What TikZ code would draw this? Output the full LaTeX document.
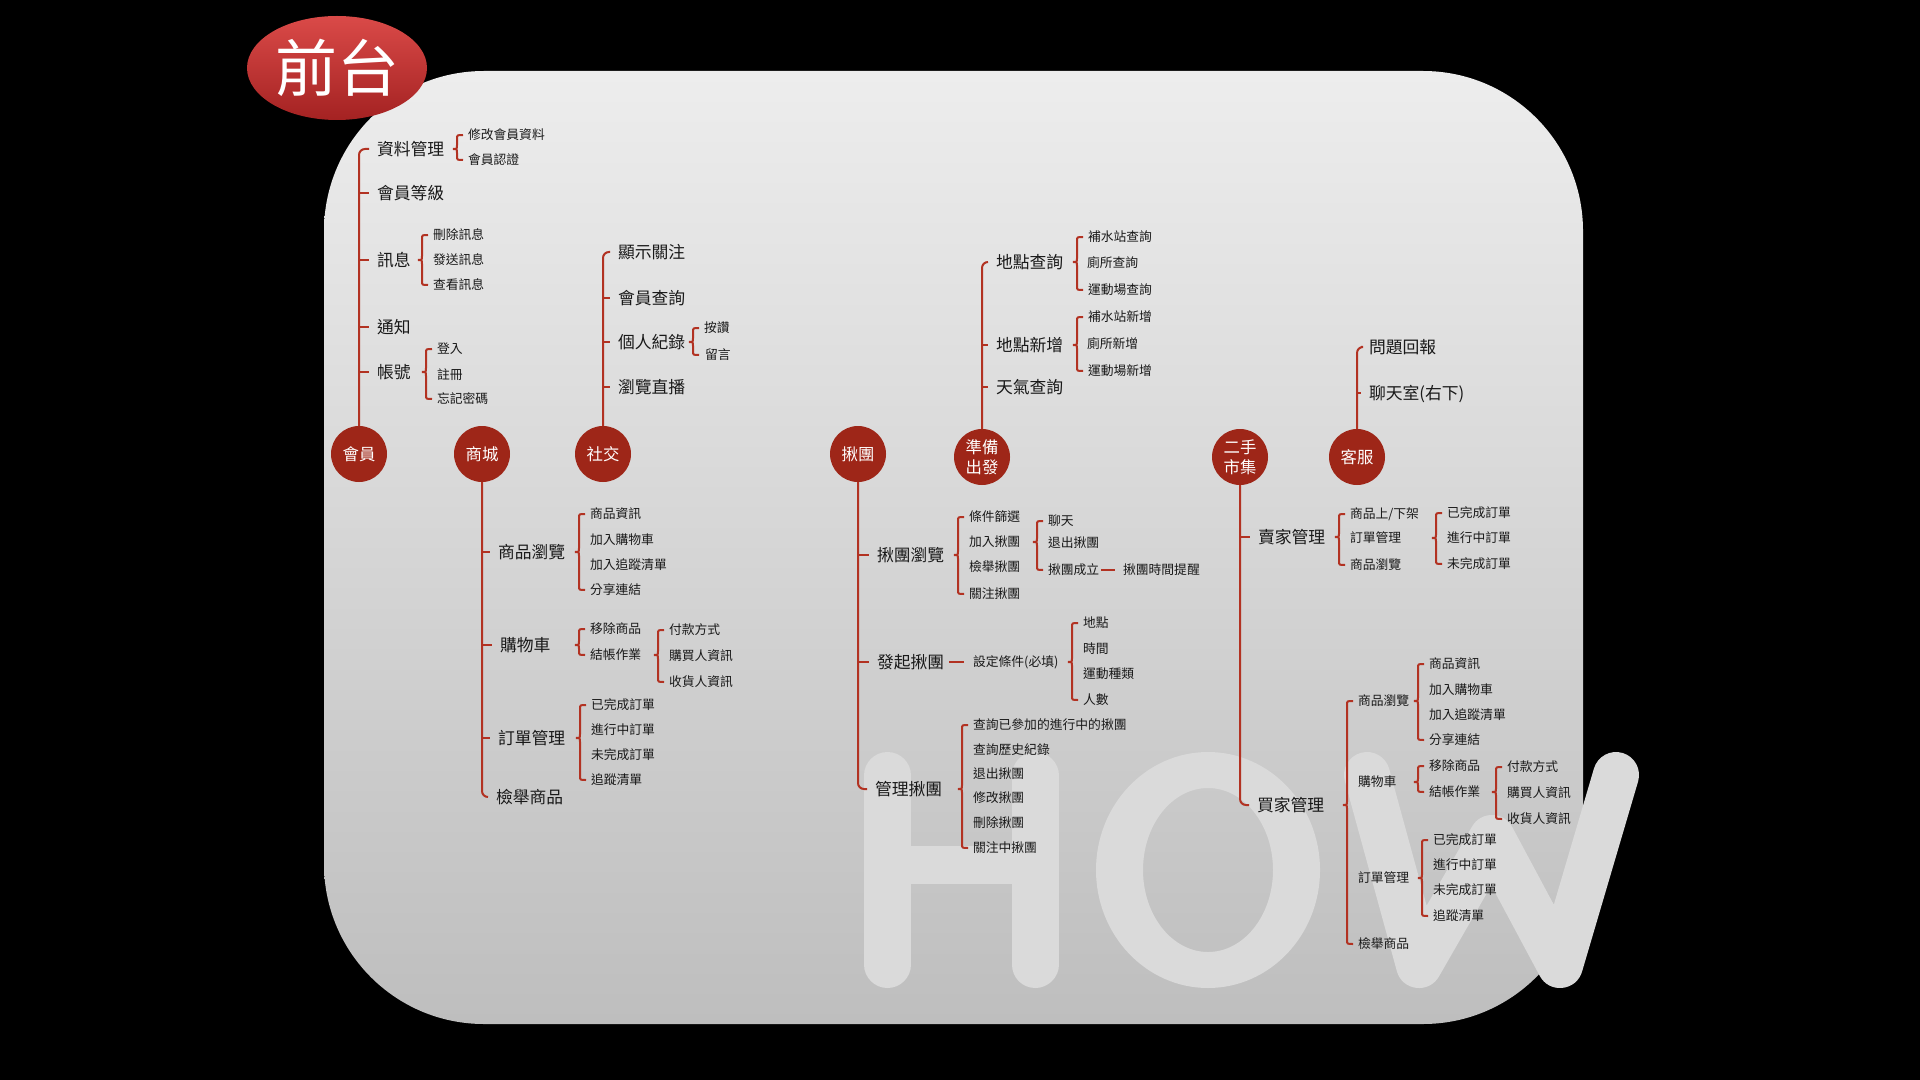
\documentclass[tikz,border=0pt]{standalone}
\usepackage{fontspec}
\setmainfont{Noto Sans CJK TC}
\usetikzlibrary{calc,shapes.geometric}
\definecolor{linkc}{RGB}{178,50,34}
\definecolor{circc}{RGB}{158,38,24}
\definecolor{txtc}{RGB}{25,25,25}
\definecolor{howc}{RGB}{218,218,218}
\definecolor{bgtop}{RGB}{237,237,237}
\definecolor{bgbot}{RGB}{190,190,190}
\definecolor{ttop}{RGB}{218,74,72}
\definecolor{tbot}{RGB}{164,34,34}
\tikzset{
 main/.style={font=\fontsize{8.4}{10}\selectfont, anchor=west, inner sep=0pt, outer sep=0pt, text height=7.4pt, text depth=1pt, text=txtc},
 sub/.style={font=\fontsize{6.4}{8}\selectfont, anchor=west, inner sep=0pt, outer sep=0pt, text height=5.6pt, text depth=0.8pt, text=txtc},
 cat/.style={circle, fill=circc, minimum size=28pt, inner sep=0pt, outer sep=0pt, text=white, align=center, font=\fontsize{8.2}{10}\selectfont},
 link/.style={draw=linkc, line width=1pt},
}
% trunk going up from circle #1 to top node #2, stubs to nodes #3
\newcommand\upTrunk[3]{%
  \draw[link, rounded corners=3pt] ([xshift=-4pt]#2.west) -- (#1.center |- #2.west) -- (#1.north);
  \foreach \nd in {#3} {\draw[link] (#1.center |- \nd.west) -- ([xshift=-4pt]\nd.west);}
}
% trunk going down from circle #1 to bottom node #2, stubs to nodes #3
\newcommand\downTrunk[3]{%
  \draw[link, rounded corners=3pt] (#1.south) -- (#1.center |- #2.west) -- ([xshift=-4pt]#2.west);
  \foreach \nd in {#3} {\draw[link] (#1.center |- \nd.west) -- ([xshift=-4pt]\nd.west);}
}
% curly brace from parent #1 to first child #2 and last child #3
\newcommand\brc[3]{%
 \draw[link] let \p1=(#2.west), \p2=(#3.west), \p3=(#1.east) in
   ({\x1-2.5pt},\y1) .. controls ({\x1-5.5pt},\y1) .. ({\x1-5.5pt},{\y1-2pt})
   -- ({\x1-5.5pt},{\y3+2pt}) .. controls ({\x1-5.5pt},\y3) .. ({\x1-7.5pt},\y3)
   .. controls ({\x1-5.5pt},\y3) .. ({\x1-5.5pt},{\y3-2pt})
   -- ({\x1-5.5pt},{\y2+2pt}) .. controls ({\x1-5.5pt},\y2) .. ({\x1-2.5pt},\y2);
}
\begin{document}
\begin{tikzpicture}[x=0.5pt,y=-0.5pt]
\useasboundingbox (0,0) rectangle (1920,1080);
\fill[black] (0,0) rectangle (1920,1080);
\shade[top color=bgtop, bottom color=bgbot, rounded corners=80pt] (324,71) rectangle (1583,1024);
% HOW watermark
\begin{scope}[howc]
\draw[line width=23.5pt, line cap=round] (887.5,775.5) -- (887.5,964.5) (1035,775.5) -- (1035,964.5);
\draw[line width=19pt] (887.5,865) -- (1035,865);
\fill[even odd rule] (1208,870) ellipse [x radius=56pt, y radius=59pt] (1208,870) ellipse [x radius=32.5pt, y radius=41pt];
\draw[line width=23pt, line cap=round, line join=round] (1367,775) -- (1419,965) -- (1492,838) -- (1560,965) -- (1616,775);
\end{scope}
% title
\node[ellipse, minimum width=90pt, minimum height=52pt, inner sep=0pt, top color=ttop, bottom color=tbot, text=white, font=\fontsize{31}{33}\selectfont] (title) at (337,68) {前台};

% ===== 會員 =====
\node[cat] (cM) at (359,454) {會員};
\node[main] (m1) at (377,149) {資料管理};
\node[sub] (m11) at (468,135) {修改會員資料};
\node[sub] (m12) at (468,160) {會員認證};
\node[main] (m2) at (377,193) {會員等級};
\node[main] (m3) at (377,260) {訊息};
\node[sub] (m31) at (433,235) {刪除訊息};
\node[sub] (m32) at (433,260) {發送訊息};
\node[sub] (m33) at (433,285) {查看訊息};
\node[main] (m4) at (377,327) {通知};
\node[main] (m5) at (377,372) {帳號};
\node[sub] (m51) at (437,349) {登入};
\node[sub] (m52) at (437,375) {註冊};
\node[sub] (m53) at (437,399) {忘記密碼};
\upTrunk{cM}{m1}{m2,m3,m4,m5}
\brc{m1}{m11}{m12}
\brc{m3}{m31}{m33}
\brc{m5}{m51}{m53}

% ===== 商城 =====
\node[cat] (cS) at (482,454) {商城};
\node[main] (s1) at (498,552) {商品瀏覽};
\node[sub] (s11) at (590,514) {商品資訊};
\node[sub] (s12) at (590,540) {加入購物車};
\node[sub] (s13) at (590,565) {加入追蹤清單};
\node[sub] (s14) at (590,590) {分享連結};
\node[main] (s2) at (500,645) {購物車};
\node[sub] (s21) at (590,629) {移除商品};
\node[sub] (s22) at (590,655) {結帳作業};
\node[sub] (s221) at (669,630) {付款方式};
\node[sub] (s222) at (669,656) {購買人資訊};
\node[sub] (s223) at (669,682) {收貨人資訊};
\node[main] (s3) at (498,738) {訂單管理};
\node[sub] (s31) at (591,705) {已完成訂單};
\node[sub] (s32) at (591,730) {進行中訂單};
\node[sub] (s33) at (591,755) {未完成訂單};
\node[sub] (s34) at (591,780) {追蹤清單};
\node[main] (s4) at (496,797) {檢舉商品};
\downTrunk{cS}{s4}{s1,s2,s3}
\brc{s1}{s11}{s14}
\brc{s2}{s21}{s22}
\brc{s22}{s221}{s223}
\brc{s3}{s31}{s34}

% ===== 社交 =====
\node[cat] (cJ) at (603,454) {社交};
\node[main] (j1) at (618,252) {顯示關注};
\node[main] (j2) at (618,298) {會員查詢};
\node[main] (j3) at (618,342) {個人紀錄};
\node[sub] (j31) at (704,328) {按讚};
\node[sub] (j32) at (705,355) {留言};
\node[main] (j4) at (618,387) {瀏覽直播};
\upTrunk{cJ}{j1}{j2,j3,j4}
\brc{j3}{j31}{j32}

% ===== 揪團 =====
\node[cat] (cG) at (858,454) {揪團};
\node[main] (g1) at (877,555) {揪團瀏覽};
\node[sub] (g11) at (969,517) {條件篩選};
\node[sub] (g12) at (969,542) {加入揪團};
\node[sub] (g13) at (969,567) {檢舉揪團};
\node[sub] (g14) at (969,594) {關注揪團};
\node[sub] (g121) at (1048,521) {聊天};
\node[sub] (g122) at (1048,543) {退出揪團};
\node[sub] (g123) at (1048,570) {揪團成立};
\node[sub] (g1231) at (1123,570) {揪團時間提醒};
\node[main] (g2) at (877,662) {發起揪團};
\node[sub] (g21) at (973,662) {設定條件(必填)};
\node[sub] (g211) at (1083,623) {地點};
\node[sub] (g212) at (1083,649) {時間};
\node[sub] (g213) at (1083,674) {運動種類};
\node[sub] (g214) at (1083,700) {人數};
\node[main] (g3) at (875,789) {管理揪團};
\node[sub] (g31) at (973,725) {查詢已參加的進行中的揪團};
\node[sub] (g32) at (973,750) {查詢歷史紀錄};
\node[sub] (g33) at (973,774) {退出揪團};
\node[sub] (g34) at (973,798) {修改揪團};
\node[sub] (g35) at (973,823) {刪除揪團};
\node[sub] (g36) at (973,848) {關注中揪團};
\downTrunk{cG}{g3}{g1,g2}
\brc{g1}{g11}{g14}
\brc{g12}{g121}{g123}
\draw[link] ([xshift=1pt]g123.east) -- ([xshift=-4pt]g1231.west);
\draw[link] ([xshift=2.5pt]g2.east) -- ([xshift=-4.5pt]g21.west);
\brc{g21}{g211}{g214}
\brc{g3}{g31}{g36}

% ===== 準備出發 =====
\node[cat] (cP) at (982,457) {準備\\出發};
\node[main] (p1) at (996,262) {地點查詢};
\node[sub] (p11) at (1088,237) {補水站查詢};
\node[sub] (p12) at (1087,263) {廁所查詢};
\node[sub] (p13) at (1088,290) {運動場查詢};
\node[main] (p2) at (996,345) {地點新增};
\node[sub] (p21) at (1088,317) {補水站新增};
\node[sub] (p22) at (1087,344) {廁所新增};
\node[sub] (p23) at (1088,371) {運動場新增};
\node[main] (p3) at (996,387) {天氣查詢};
\upTrunk{cP}{p1}{p2,p3}
\brc{p1}{p11}{p13}
\brc{p2}{p21}{p23}

% ===== 二手市集 =====
\node[cat] (cE) at (1240,457) {二手\\市集};
\node[main] (e1) at (1258,537) {賣家管理};
\node[sub] (e11) at (1350,514) {商品上/下架};
\node[sub] (e12) at (1350,538) {訂單管理};
\node[sub] (e13) at (1350,565) {商品瀏覽};
\node[sub] (e121) at (1447,513) {已完成訂單};
\node[sub] (e122) at (1447,538) {進行中訂單};
\node[sub] (e123) at (1447,564) {未完成訂單};
\node[main] (e2) at (1257,805) {買家管理};
\node[sub] (e21) at (1358,701) {商品瀏覽};
\node[sub] (e22) at (1358,782) {購物車};
\node[sub] (e23) at (1358,878) {訂單管理};
\node[sub] (e24) at (1358,944) {檢舉商品};
\node[sub] (e211) at (1429,664) {商品資訊};
\node[sub] (e212) at (1429,690) {加入購物車};
\node[sub] (e213) at (1429,715) {加入追蹤清單};
\node[sub] (e214) at (1429,740) {分享連結};
\node[sub] (e221) at (1429,766) {移除商品};
\node[sub] (e222) at (1429,792) {結帳作業};
\node[sub] (e2221) at (1507,767) {付款方式};
\node[sub] (e2222) at (1507,793) {購買人資訊};
\node[sub] (e2223) at (1507,819) {收貨人資訊};
\node[sub] (e231) at (1433,840) {已完成訂單};
\node[sub] (e232) at (1433,865) {進行中訂單};
\node[sub] (e233) at (1433,890) {未完成訂單};
\node[sub] (e234) at (1433,916) {追蹤清單};
\downTrunk{cE}{e2}{e1}
\brc{e1}{e11}{e13}
\brc{e12}{e121}{e123}
\brc{e2}{e21}{e24}
\brc{e21}{e211}{e214}
\brc{e22}{e221}{e222}
\brc{e222}{e2221}{e2223}
\brc{e23}{e231}{e234}

% ===== 客服 =====
\node[cat] (cK) at (1357,457) {客服};
\node[main] (k1) at (1369,347) {問題回報};
\node[main] (k2) at (1369,393) {聊天室(右下)};
\upTrunk{cK}{k1}{k2}
\end{tikzpicture}
\end{document}
